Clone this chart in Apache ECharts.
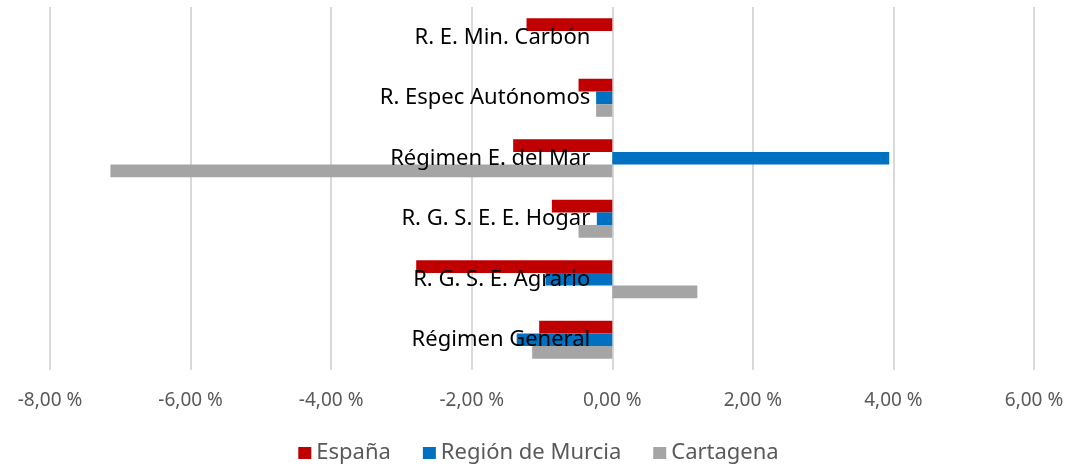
<!DOCTYPE html>
<html lang="es">
<head>
    <meta charset="UTF-8">
    <title>Variación afiliados por régimen</title>
    <style>
        html, body { margin: 0; padding: 0; background: #fff; }
        #chart { width: 1077px; height: 468px; }
    </style>
</head>
<body>
<div id="chart"></div>

<script src="https://cdn.jsdelivr.net/npm/echarts@6/dist/echarts.min.js"></script>
<script>
    // categorías, de abajo a arriba
    var categorias = ['Régimen General', 'R. G. S. E. Agrario', 'R. G. S. E. E. Hogar',
        'Régimen E. del Mar', 'R. Espec Autónomos', 'R. E. Min. Carbón'];
    var nombresSeries = ['España', 'Región de Murcia', 'Cartagena'];
    // valores en %
    var espana = [-1.04, -2.79, -0.86, -1.41, -0.48, -1.22];
    var murcia = [-1.36, -0.95, -0.22, 3.94, -0.23, 0];
    var cartagena = [-1.14, 1.21, -0.48, -7.14, -0.23, 0];
    var colores = ['#C00000', '#0070C0', '#A5A5A5'];

    var gridLeft = 50;
    var myChart = echarts.init(document.getElementById('chart'));

    function fmt(v) {
        return v.toFixed(2).replace('.', ',') + ' %';
    }

    var datos = [espana, murcia, cartagena];
    var series = [];
    for (var i = 0; i < datos.length; i++) {
        series.push({
            name: nombresSeries[i],
            type: 'bar',
            data: datos[i],
            barGap: '0%',
            barCategoryGap: '37%',
            itemStyle: {color: colores[i]}
        });
    }

    var option = {
        animation: false,
        textStyle: {fontFamily: 'Noto Sans'},
        legend: {
            data: nombresSeries,
            top: 437,
            left: 'center',
            icon: 'rect',
            itemWidth: 13,
            itemHeight: 12,
            itemGap: 32,
            textStyle: {color: '#595959', fontSize: 22, fontFamily: 'Noto Sans'}
        },
        grid: {left: gridLeft, right: 43, top: 7, bottom: 98, containLabel: false, outerBoundsMode: 'none'},
        xAxis: {
            type: 'value',
            min: -8,
            max: 6,
            interval: 2,
            axisLine: {show: false},
            axisTick: {show: false},
            splitLine: {lineStyle: {color: '#d9d9d9', width: 2}},
            axisLabel: {
                color: '#595959',
                fontSize: 19,
                margin: 21,
                formatter: fmt
            }
        },
        yAxis: {
            type: 'category',
            data: categorias,
            z: 5,
            axisLine: {show: false},
            axisTick: {show: false},
            axisLabel: {color: '#000', fontSize: 22, margin: 22}
        },
        series: series
    };

    myChart.setOption(option);

    // las etiquetas de categoría van junto al eje en el 0
    var xCero = myChart.convertToPixel({xAxisIndex: 0}, 0);
    myChart.setOption({yAxis: {offset: -(xCero - gridLeft)}});
</script>
</body>
</html>
